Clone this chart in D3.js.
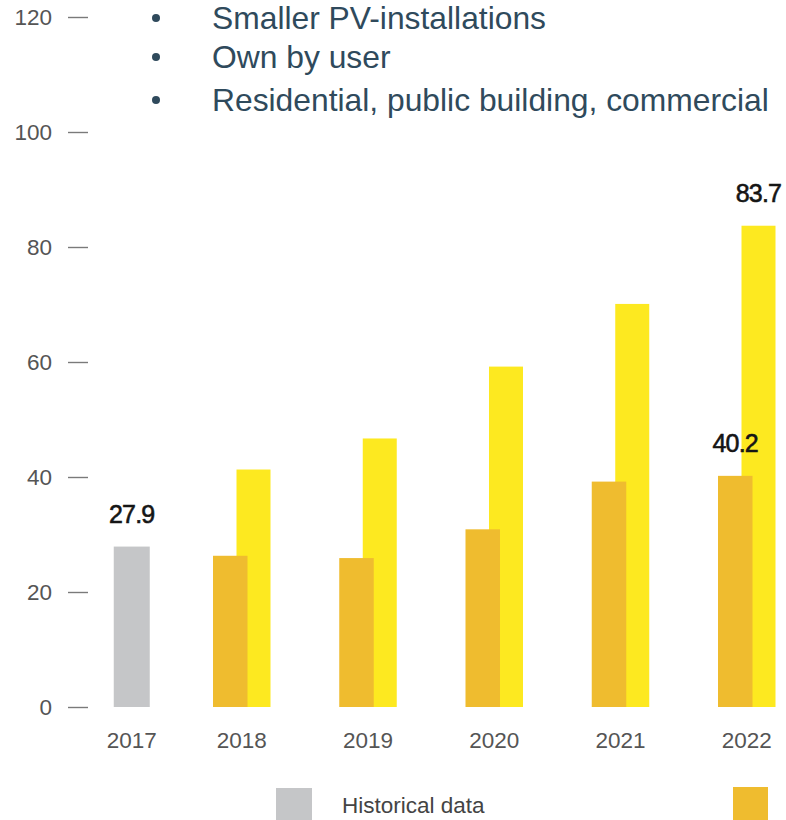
<!DOCTYPE html>
<html>
<head>
<meta charset="utf-8">
<script src="https://cdn.jsdelivr.net/npm/d3@7"></script>
<style>
  html, body { margin: 0; padding: 0; background: #fff; }
  svg { display: block; font-family: "Liberation Sans", Arial, Helvetica, sans-serif; }
</style>
</head>
<body>
<svg id="chart" width="786" height="820"></svg>
<script>
// Installed capacity, historical and projected (low / high scenario)
const years = ["2017", "2018", "2019", "2020", "2021", "2022"];
const historicalYears = ["2017"];
const historicalValues = [27.9];
const projectedYears = ["2018", "2019", "2020", "2021", "2022"];
const lowValues = [26.3, 25.9, 30.9, 39.2, 40.2];
const highValues = [41.3, 46.7, 59.2, 70.1, 83.7];
const yTicks = [0, 20, 40, 60, 80, 100, 120];
const bullets = ["Smaller PV-installations", "Own by user", "Residential, public building, commercial"];
const legendLabels = ["Historical data"];
// values that carry a printed label
const labelledHistorical = ["2017"];
const labelledLow = ["2022"];
const labelledHigh = ["2022"];

const colors = { historical: "#c5c6c8", low: "#efbc2f", high: "#fde920" };

const svg = d3.select("#chart");
svg.append("rect").attr("width", 786).attr("height", 820).attr("fill", "#fff");

const y = d3.scaleLinear().domain([0, 120]).range([707, 17]);
const x = d3.scaleBand().domain(years).range([86.75, 844.25]).padding(0);

const histOffset = 27, histWidth = 36;
const lowWidth = 34.5, highOffset = 23.5, highWidth = 34;
const groupCenter = 28.75;

// y axis: short detached tick dashes, no domain line
const yAxis = d3.axisLeft(y).tickValues(yTicks).tickSize(20).tickPadding(16);
const gy = svg.append("g").attr("transform", "translate(88,0)").call(yAxis);
gy.select(".domain").remove();
gy.selectAll(".tick line").attr("stroke", "#7a7a7a").attr("stroke-width", 1.4);
gy.selectAll(".tick text")
  .attr("fill", "#555")
  .attr("font-size", 22.5)
  .attr("font-family", "Liberation Sans, Arial, sans-serif");

// bars
const hist = historicalYears.map((yr, i) => ({ year: yr, value: historicalValues[i] }));
const proj = projectedYears.map((yr, i) => ({ year: yr, low: lowValues[i], high: highValues[i] }));

svg.append("g").selectAll("rect").data(hist).join("rect")
  .attr("x", d => x(d.year) + histOffset)
  .attr("width", histWidth)
  .attr("y", d => y(d.value))
  .attr("height", d => y(0) - y(d.value))
  .attr("fill", colors.historical);

svg.append("g").selectAll("rect").data(proj).join("rect")
  .attr("x", d => x(d.year) + highOffset)
  .attr("width", highWidth)
  .attr("y", d => y(d.high))
  .attr("height", d => y(0) - y(d.high))
  .attr("fill", colors.high);

svg.append("g").selectAll("rect").data(proj).join("rect")
  .attr("x", d => x(d.year))
  .attr("width", lowWidth)
  .attr("y", d => y(d.low))
  .attr("height", d => y(0) - y(d.low))
  .attr("fill", colors.low);

// value labels
const valueLabels = [
  ...hist.filter(d => labelledHistorical.includes(d.year))
    .map(d => ({ cx: x(d.year) + histOffset + histWidth / 2, v: d.value })),
  ...proj.filter(d => labelledLow.includes(d.year))
    .map(d => ({ cx: x(d.year) + lowWidth / 2, v: d.low })),
  ...proj.filter(d => labelledHigh.includes(d.year))
    .map(d => ({ cx: x(d.year) + highOffset + highWidth / 2, v: d.high }))
];
svg.append("g").selectAll("text").data(valueLabels).join("text")
  .attr("x", d => d.cx)
  .attr("y", d => y(d.v) - 24)
  .attr("text-anchor", "middle")
  .attr("font-size", 25)
  .attr("letter-spacing", -0.8)
  .attr("fill", "#151515")
  .attr("stroke", "#151515")
  .attr("stroke-width", 0.6)
  .text(d => d.v.toFixed(1));

// year labels
svg.append("g").selectAll("text").data(years).join("text")
  .attr("x", d => historicalYears.includes(d) ? x(d) + histOffset + histWidth / 2 : x(d) + groupCenter)
  .attr("y", 748)
  .attr("text-anchor", "middle")
  .attr("font-size", 22.5)
  .attr("fill", "#555")
  .text(d => d);

// bullet list
const bl = svg.append("g");
const baselines = [29, 68, 111];
bullets.forEach((t, i) => {
  bl.append("circle").attr("cx", 156).attr("cy", baselines[i] - 11).attr("r", 4).attr("fill", "#2f4a5c");
  bl.append("text").attr("x", 212).attr("y", baselines[i])
    .attr("font-size", 31.8).attr("fill", "#2f4a5c").text(t);
});

// legend
const lg = svg.append("g");
lg.append("rect").attr("x", 276).attr("y", 788).attr("width", 36).attr("height", 40).attr("fill", colors.historical);
lg.append("text").attr("x", 342).attr("y", 813).attr("font-size", 22.5).attr("fill", "#444").text(legendLabels[0]);
lg.append("rect").attr("x", 733).attr("y", 787).attr("width", 35).attr("height", 40).attr("fill", colors.low);
</script>
</body>
</html>
